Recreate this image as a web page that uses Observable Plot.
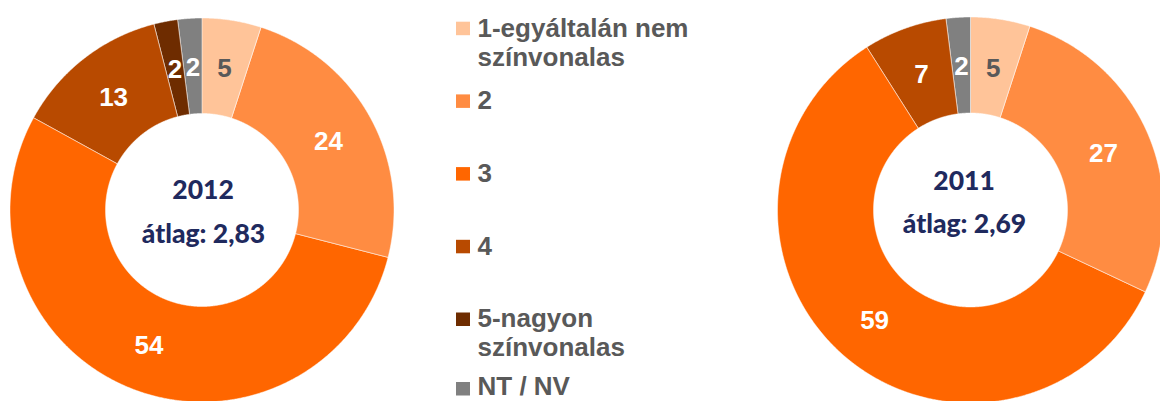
<!DOCTYPE html>
<html>
<head>
<meta charset="utf-8">
<script src="https://cdn.jsdelivr.net/npm/d3@7"></script>
<script src="https://cdn.jsdelivr.net/npm/@observablehq/plot@0.6"></script>
<style>
  html, body { margin: 0; padding: 0; background: #fff; }
  #chart svg { display: block; overflow: hidden; }
</style>
</head>
<body>
<div id="chart"></div>
<script>
// ---- data ----
const categories = ["1-egyáltalán nem színvonalas", "2", "3", "4", "5-nagyon színvonalas", "NT / NV"];
const legendLabels = ["1-egyáltalán nem\nszínvonalas", "2", "3", "4", "5-nagyon\nszínvonalas", "NT / NV"];
const colors = ["#ffc499", "#ff8c42", "#ff6600", "#b84a00", "#6e2c00", "#808080"];
const years = ["2012", "2011"];
const averages = ["átlag: 2,83", "átlag: 2,69"];
const values2012 = [5, 24, 54, 13, 2, 2];
const values2011 = [5, 27, 59, 7, 0, 2];

// ---- layout ----
const W = 1160, H = 401;
const donuts = [
  {year: years[0], avg: averages[0], values: values2012, cx: 201.5, cy: 209.5, r0: 96.5, r1: 192, tx: 202.5, ty: 198.5},
  {year: years[1], avg: averages[1], values: values2011, cx: 970, cy: 209.5, r0: 97, r1: 193, tx: 963.5, ty: 189}
];

const slicePts = [];
const labels = [];
const centerText = [];
donuts.forEach((dn, di) => {
  const arcs = d3.pie().sort(null).value(d => d)(dn.values);
  arcs.forEach((a, i) => {
    if (a.data <= 0) return;
    const key = di + "-" + i;
    const n = Math.max(4, Math.ceil((a.endAngle - a.startAngle) / 0.005));
    for (let k = 0; k <= n; k++) {
      const t = a.startAngle + (a.endAngle - a.startAngle) * k / n;
      slicePts.push({key, cat: categories[i], x: dn.cx + dn.r1 * Math.sin(t), y: dn.cy - dn.r1 * Math.cos(t)});
    }
    for (let k = n; k >= 0; k--) {
      const t = a.startAngle + (a.endAngle - a.startAngle) * k / n;
      slicePts.push({key, cat: categories[i], x: dn.cx + dn.r0 * Math.sin(t), y: dn.cy - dn.r0 * Math.cos(t)});
    }
    const m = (a.startAngle + a.endAngle) / 2, rm = (dn.r0 + dn.r1) / 2;
    labels.push({text: String(a.data), x: dn.cx + rm * Math.sin(m), y: dn.cy - rm * Math.cos(m) + 1.5, light: i === 0});
  });
  centerText.push({text: dn.year, x: dn.tx, y: dn.ty});
  centerText.push({text: dn.avg, x: dn.tx + 0.5, y: dn.ty + 43.5});
});

const legendRows = legendLabels.map((l, i) => {
  const top = 21.7 + 72.7 * i;
  const nLines = l.split("\n").length;
  return {cat: categories[i], label: l, top, base: Math.min(394, top + 14.3 + (nLines - 1) * 29)};
});

const chart = Plot.plot({
  width: W, height: H,
  margin: 0,
  style: {background: "#fff", overflow: "hidden"},
  x: {domain: [0, W], range: [0, W], axis: null},
  y: {domain: [0, H], range: [0, H], axis: null},
  color: {domain: categories, range: colors},
  marks: [
    Plot.line(slicePts, {x: "x", y: "y", z: "key", fill: "cat", stroke: "#ffffff", strokeWidth: 0.7, strokeOpacity: 0.7, curve: "linear-closed"}),
    Plot.text(labels, {x: "x", y: "y", text: "text", fill: d => d.light ? "#595959" : "#ffffff",
      fontFamily: "'Liberation Sans', Arial, sans-serif", fontWeight: "bold", fontSize: 26, textAnchor: "middle"}),
    Plot.text(centerText, {x: "x", y: "y", text: "text", fill: "#1f2a5e", lineAnchor: "bottom",
      fontFamily: "Lato, sans-serif", fontWeight: 900, fontSize: 26.5, textAnchor: "middle"}),
    Plot.rect(legendRows, {x1: () => 456, x2: () => 470, y1: d => Math.min(d.top, 382), y2: d => Math.min(d.top, 382) + 13.5, fill: "cat"}),
    Plot.text(legendRows, {x: () => 477, y: "base", text: "label", fill: "#595959", lineAnchor: "bottom", lineHeight: 29 / 26,
      fontFamily: "'Liberation Sans', Arial, sans-serif", fontWeight: "bold", fontSize: 26, textAnchor: "start"})
  ]
});
document.getElementById("chart").appendChild(chart);
</script>
</body>
</html>
